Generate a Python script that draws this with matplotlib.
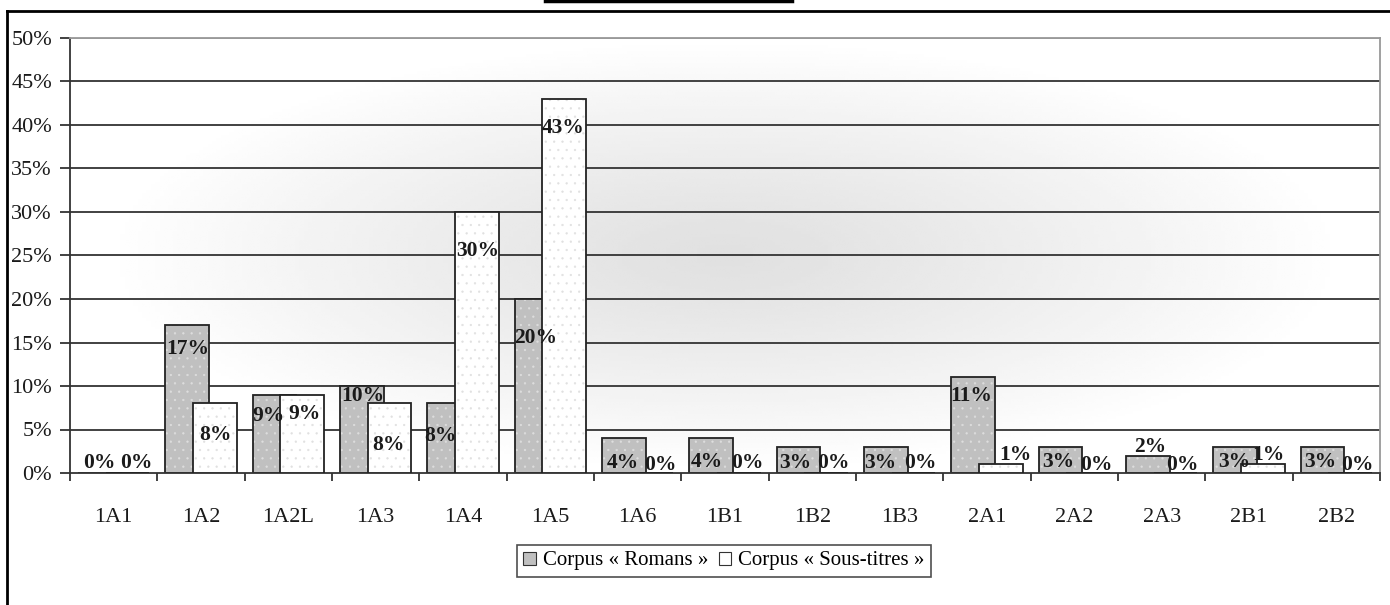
import numpy as np
import matplotlib.pyplot as plt
from matplotlib.lines import Line2D
from matplotlib.patches import Patch

categories = ['1A1', '1A2', '1A2L', '1A3', '1A4', '1A5', '1A6', '1B1', '1B2',
              '1B3', '2A1', '2A2', '2A3', '2B1', '2B2']
romans = [0, 17, 9, 10, 8, 20, 4, 4, 3, 3, 11, 3, 2, 3, 3]
sous_titres = [0, 8, 9, 8, 30, 43, 0, 0, 0, 0, 1, 0, 0, 1, 0]
yticks = [0, 5, 10, 15, 20, 25, 30, 35, 40, 45, 50]

# where the (oddly placed) data labels sit
romans_lab_y = [1.15, 14.25, 6.55, 8.85, 4.25, 15.5, 1.15, 1.25, 1.15, 1.15, 8.85, 1.25, 3.0, 1.25, 1.25]
romans_lab_dx = [-0.16, -0.15, -0.23, -0.15, -0.26, -0.17, -0.17, -0.21, -0.19, -0.22, -0.18, -0.18, -0.13, -0.17, -0.18]
sous_lab_y = [1.15, 4.37, 6.8, 3.2, 25.5, 39.7, 0.9, 1.15, 1.15, 1.15, 2.05, 0.9, 0.9, 2.05, 0.9]
sous_lab_dx = [0.26, 0.16, 0.19, 0.15, 0.17, 0.15, 0.26, 0.25, 0.24, 0.24, 0.33, 0.25, 0.24, 0.22, 0.24]

plt.rcParams['font.family'] = ['Liberation Serif', 'DejaVu Serif']
plt.rcParams['hatch.linewidth'] = 0.4

fig = plt.figure(figsize=(13.9, 6.05), dpi=100)
ax = fig.add_axes([70 / 1390, 132 / 605, 1310 / 1390, 435 / 605])

x = np.arange(len(categories))
ax.set_xlim(-0.5, len(categories) - 0.5)
ax.set_ylim(0, 50)

# gradient background, gray in the middle fading to white at edges
gx, gy = np.meshgrid(np.linspace(-1, 1, 300), np.linspace(-1, 1, 150))
r = np.clip(np.sqrt((gx / 0.95) ** 2 + (gy / 1.0) ** 2), 0, 1)
bg = 0.88 + 0.12 * r ** 1.2
ax.imshow(bg, cmap='gray', vmin=0, vmax=1, extent=[-0.5, 14.5, 0, 50],
          aspect='auto', zorder=0, interpolation='bilinear')

for v in yticks[1:-1]:
    ax.axhline(v, color='#333333', lw=1.3, zorder=1)
ax.axhline(50, color='#999999', lw=1.3, zorder=1)

w = 0.5
off = 0.16
# gray series with white dots
ax.bar(x - off, romans, w, color='#c0c0c0', edgecolor='#dedede', hatch='..', lw=0, zorder=2)
ax.bar(x - off, romans, w, fill=False, edgecolor='#222222', lw=1.3, zorder=2)
# white series with gray dots, drawn over
ax.bar(x + off, sous_titres, w, color='white', edgecolor='#e0e0e0', hatch='..', lw=0, zorder=3)
ax.bar(x + off, sous_titres, w, fill=False, edgecolor='#222222', lw=1.3, zorder=3)

for i in range(len(categories)):
    ax.text(x[i] + romans_lab_dx[i], romans_lab_y[i], f'{romans[i]}%', ha='center', va='center',
            fontsize=15.5, fontweight='bold', color='#1a1a1a', zorder=5)
    ax.text(x[i] + sous_lab_dx[i], sous_lab_y[i], f'{sous_titres[i]}%', ha='center', va='center',
            fontsize=15.5, fontweight='bold', color='#1a1a1a', zorder=5)

for s in ['top', 'right']:
    ax.spines[s].set_color('#999999')
    ax.spines[s].set_linewidth(1.3)
ax.spines['left'].set_color('#333333')
ax.spines['left'].set_linewidth(1.3)
ax.spines['bottom'].set_color('#333333')
ax.spines['bottom'].set_linewidth(1.3)

ax.set_yticks(yticks)
ax.set_yticklabels([f'{v}%' for v in yticks], fontsize=16, color='#1a1a1a')
ax.set_xticks(x)
ax.set_xticklabels(categories, fontsize=16, color='#1a1a1a')
ax.tick_params(axis='x', length=0, pad=25)
ax.set_xticks(np.arange(-0.5, len(categories), 1), minor=True)
ax.tick_params(axis='x', which='minor', length=6, width=1.3, color='#333333', direction='out')
ax.tick_params(axis='y', length=7, width=1.3, color='#333333', direction='out', pad=6)

handles = [Patch(facecolor='#c0c0c0', edgecolor='#333333', lw=0.8),
           Patch(facecolor='white', edgecolor='#333333', lw=0.8)]
leg = fig.legend(handles, ['Corpus « Romans »', 'Corpus « Sous-titres »'],
                 loc='center', bbox_to_anchor=(724 / 1390, 1 - 561 / 605), ncol=2,
                 fontsize=15, frameon=True, fancybox=False, handlelength=0.6, handleheight=0.6,
                 handletextpad=0.35, columnspacing=0.5, borderpad=0.3, borderaxespad=0)
leg.get_frame().set_edgecolor('#222222')
leg.get_frame().set_linewidth(1.2)

# outer chart frame (runs off the image on the right and bottom)
fig.add_artist(Line2D([7 / 1390, 1.0], [1 - 11 / 605, 1 - 11 / 605], color='black', lw=2, transform=fig.transFigure))
fig.add_artist(Line2D([7 / 1390, 7 / 1390], [0, 1 - 11 / 605], color='black', lw=2, transform=fig.transFigure))
fig.add_artist(Line2D([545 / 1390, 792 / 1390], [1 - 1 / 605, 1 - 1 / 605], color='black', lw=2.5, transform=fig.transFigure))

fig.savefig('out.png', dpi=100)
